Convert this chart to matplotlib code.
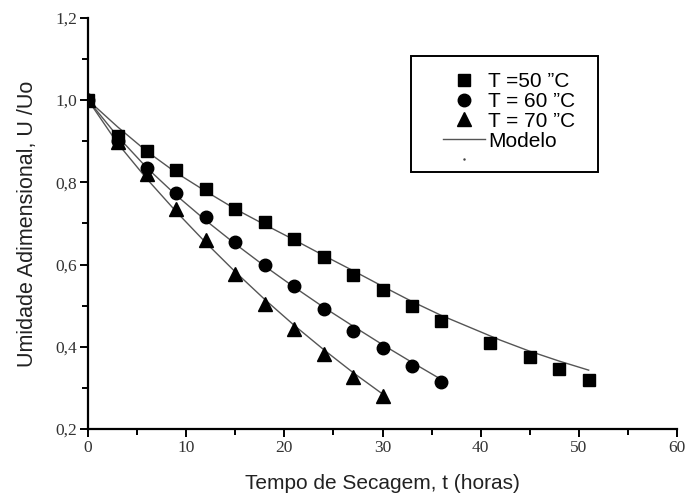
import matplotlib
matplotlib.use("Agg")
import matplotlib.pyplot as plt
from matplotlib.patches import Rectangle
from matplotlib.ticker import MultipleLocator, FuncFormatter

# experimental points (t in hours, U/Uo)
t_50 = [0, 3, 6, 9, 12, 15, 18, 21, 24, 27, 30, 33, 36, 41, 45, 48, 51]
u_50 = [1.0, 0.912, 0.877, 0.83, 0.784, 0.735, 0.703, 0.663, 0.619, 0.574,
        0.538, 0.499, 0.462, 0.41, 0.374, 0.345, 0.319]

t_60 = [0, 3, 6, 9, 12, 15, 18, 21, 24, 27, 30, 33, 36]
u_60 = [1.0, 0.90, 0.836, 0.774, 0.715, 0.654, 0.598, 0.547, 0.491, 0.438,
        0.396, 0.354, 0.313]

t_70 = [0, 3, 6, 9, 12, 15, 18, 21, 24, 27, 30]
u_70 = [1.0, 0.897, 0.82, 0.735, 0.659, 0.577, 0.505, 0.443, 0.382, 0.327, 0.280]

# model curves
tm_50 = [0, 3, 6, 9, 12, 15, 18, 21, 24, 27, 30, 33, 36, 39, 42, 45, 48, 51]
um_50 = [1.0, 0.935, 0.875, 0.823, 0.778, 0.735, 0.697, 0.66, 0.622, 0.585,
         0.547, 0.51, 0.476, 0.446, 0.416, 0.389, 0.365, 0.343]

tm_60 = [0, 3, 6, 9, 12, 15, 18, 21, 24, 27, 30, 33, 36]
um_60 = [1.0, 0.912, 0.835, 0.768, 0.707, 0.65, 0.596, 0.545, 0.496, 0.45,
         0.405, 0.362, 0.32]

tm_70 = [0, 3, 6, 9, 12, 15, 18, 21, 24, 27, 30]
um_70 = [1.0, 0.895, 0.808, 0.728, 0.653, 0.582, 0.515, 0.452, 0.393, 0.337, 0.285]

labels = ["T =50 \u201dC", "T = 60 \u201dC", "T = 70 \u201dC", "Modelo", " "]

fig = plt.figure(figsize=(6.88, 4.97), dpi=100)
ax = fig.add_axes([0.128, 0.137, 0.856, 0.827])

line_kw = dict(color="#555555", lw=1.0, zorder=2)
ax.plot(tm_50, um_50, **line_kw)
ax.plot(tm_60, um_60, **line_kw)
ax.plot(tm_70, um_70, **line_kw)

h50, = ax.plot(t_50, u_50, "s", color="black", ms=8.5, ls="none", zorder=3)
h60, = ax.plot(t_60, u_60, "o", color="black", ms=9, ls="none", zorder=3)
h70, = ax.plot(t_70, u_70, "^", color="black", ms=9.5, ls="none", zorder=3)
hm, = ax.plot([], [], color="#555555", lw=1.0)
hdot, = ax.plot([], [], ".", color="#444444", ms=1.5, ls="none")

ax.set_xlim(0, 60)
ax.set_ylim(0.2, 1.2)
ax.xaxis.set_major_locator(MultipleLocator(10))
ax.xaxis.set_minor_locator(MultipleLocator(5))
ax.yaxis.set_major_locator(MultipleLocator(0.2))
ax.yaxis.set_minor_locator(MultipleLocator(0.1))
ax.yaxis.set_major_formatter(FuncFormatter(lambda v, p: f"{v:.1f}".replace(".", ",")))

for s in ["top", "right"]:
    ax.spines[s].set_visible(False)
for s in ["left", "bottom"]:
    ax.spines[s].set_linewidth(1.6)

ax.tick_params(which="major", direction="out", length=6, width=1.4,
               labelsize=12.5, labelfontfamily="Liberation Serif",
               labelcolor="#333333", pad=2)
ax.tick_params(which="minor", direction="out", length=4, width=1.4)

ax.set_xlabel("Tempo de Secagem, t (horas)", fontsize=15,
              family="Liberation Sans", color="#222222", labelpad=13)
ax.set_ylabel("Umidade Adimensional, U /Uo", fontsize=15.5,
              family="Liberation Sans", color="#222222", labelpad=12)

# legend entries without frame, frame drawn as a separate box
leg = fig.legend([h50, h60, h70, hm, hdot], labels, loc="upper left",
                 bbox_to_anchor=(0.644, 0.855), frameon=False,
                 prop={"family": "Liberation Sans", "size": 15},
                 labelspacing=0.04, handlelength=2.0, handletextpad=0.15,
                 borderpad=0, borderaxespad=0)
fig.add_artist(Rectangle((411 / 688, 1 - 172 / 497), 187 / 688, 116 / 497,
                         transform=fig.transFigure, fill=False,
                         edgecolor="black", lw=1.4))

fig.savefig("out.png", dpi=100)
